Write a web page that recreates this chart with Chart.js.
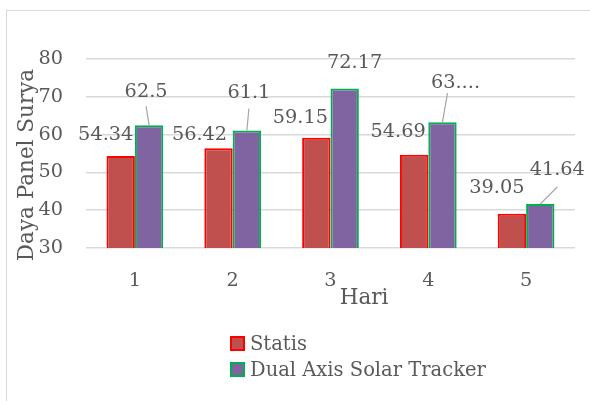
<!DOCTYPE html>
<html>
<head>
<meta charset="utf-8">
<script src="https://cdn.jsdelivr.net/npm/chart.js@4.4.1/dist/chart.umd.min.js"></script>
<style>
  html, body { margin: 0; padding: 0; background: #fff; overflow: hidden; }
  #wrap { position: relative; width: 590px; height: 401px; }
  #frame { position: absolute; left: 6px; top: 10px; width: 600px; height: 400px; border: 1.5px solid #d9d9d9; }
  #chart { position: absolute; left: 0; top: 0; }
  #legend { position: absolute; left: 230px; top: 330px; font-family: "DejaVu Serif", serif; font-size: 19.5px; color: #595959; }
  #legend .item { display: flex; align-items: center; height: 26px; }
  #legend .box { width: 11px; height: 11px; border: 2px solid; margin-right: 5px; }
</style>
</head>
<body>
<div id="wrap">
  <div id="frame"></div>
  <canvas id="chart" width="590" height="401"></canvas>
  <div id="legend"></div>
</div>
<script>
// data
const days = ['1', '2', '3', '4', '5'];
const statis = [54.34, 56.42, 59.15, 54.69, 39.05];
const tracker = [62.5, 61.1, 72.17, 63.3, 41.64];
const trackerCut = [false, false, false, true, false]; // label terpotong "63...."
const yMin = 30;
const yMax = 80;
const yStep = 10;

const FONT = '"DejaVu Serif", serif';
const TEXT = '#595959';

// posisi label (relatif ke tengah & atas batang)
const labelOffsets = [
  [[-15, -21], [-19, -13], [-16, -20], [-16, -23], [-15, -26]],
  [[-3, -33], [2, -37], [10, -26], [13, -39], [17, -34]]
];
// garis penunjuk: [dx awal dari label, dy awal dari label]
const leaders = [
  [null, null, null, null, null],
  [[0, 14], [0, 15], null, [-8, 10], [0, 17]]
];

const labelPlugin = {
  id: 'barLabels',
  afterDatasetsDraw(chart) {
    const ctx = chart.ctx;
    ctx.save();
    ctx.font = '19.3px ' + FONT;
    ctx.textAlign = 'center';
    ctx.textBaseline = 'middle';
    chart.data.datasets.forEach((ds, di) => {
      chart.getDatasetMeta(di).data.forEach((bar, i) => {
        const [dx, dy] = labelOffsets[di][i];
        const lx = bar.x + dx;
        const ly = bar.y + dy;
        const lead = leaders[di][i];
        if (lead) {
          ctx.strokeStyle = '#a6a6a6';
          ctx.lineWidth = 1.2;
          ctx.beginPath();
          ctx.moveTo(lx + lead[0], ly + lead[1]);
          ctx.lineTo(bar.x, bar.y);
          ctx.stroke();
        }
        let txt = String(ds.data[i]);
        if (di === 1 && trackerCut[i]) txt = txt.slice(0, 2) + '....';
        ctx.fillStyle = TEXT;
        ctx.fillText(txt, lx, ly);
      });
    });

    // judul sumbu
    ctx.font = '21.5px ' + FONT;
    ctx.fillText('Hari', 364, 298);
    ctx.translate(27, 165);
    ctx.rotate(-Math.PI / 2);
    ctx.fillText('Daya Panel Surya', 0, 0);
    ctx.restore();
  }
};

const chart = new Chart(document.getElementById('chart'), {
  type: 'bar',
  data: {
    labels: days,
    datasets: [
      {
        label: 'Statis',
        data: statis,
        backgroundColor: '#C0504D',
        borderColor: '#FF0000',
        borderWidth: 2
      },
      {
        label: 'Dual Axis Solar Tracker',
        data: tracker,
        backgroundColor: '#8064A2',
        borderColor: '#00B050',
        borderWidth: 2
      }
    ]
  },
  options: {
    responsive: false,
    animation: false,
    events: [],
    layout: { padding: { left: 6, right: 15, top: 59, bottom: 0 } },
    datasets: { bar: { categoryPercentage: 0.58, barPercentage: 1 } },
    plugins: { legend: { display: false }, tooltip: { enabled: false } },
    scales: {
      x: {
        grid: { display: false },
        border: { display: false },
        ticks: { color: TEXT, font: { family: FONT, size: 19.3 }, padding: 13 },
        afterFit: s => { s.height = 153; }
      },
      y: {
        min: yMin,
        max: yMax,
        grid: { color: '#d9d9d9', lineWidth: 1.5, drawTicks: false },
        border: { display: false },
        ticks: { stepSize: yStep, color: TEXT, font: { family: FONT, size: 19.3 }, padding: 23 },
        afterFit: s => { s.width = 80; }
      }
    }
  },
  plugins: [labelPlugin]
});

// legenda HTML
const legend = document.getElementById('legend');
chart.data.datasets.forEach(ds => {
  const item = document.createElement('div');
  item.className = 'item';
  item.innerHTML = `<span class="box" style="background:${ds.backgroundColor};border-color:${ds.borderColor}"></span><span>${ds.label}</span>`;
  legend.appendChild(item);
});
</script>
</body>
</html>
